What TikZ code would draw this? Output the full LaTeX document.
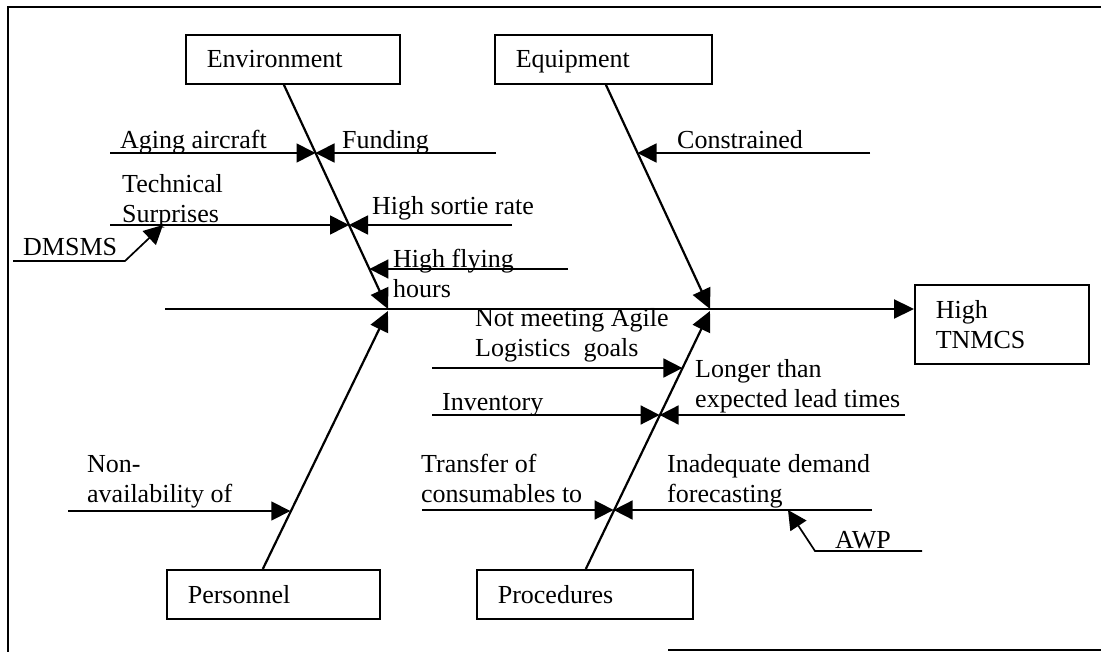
\documentclass[tikz,border=0pt]{standalone}
\usepackage{fontspec}
\setmainfont{Liberation Serif}
\usetikzlibrary{arrows.meta}
\tikzset{
  causebox/.style={draw,line width=1.6pt,anchor=north west,minimum height=49pt,
    inner xsep=21pt,inner ysep=0pt,text depth=0pt,text width=#1,align=left},
  bone/.style={line width=2.2pt,-{Triangle[length=20pt,width=19pt]}},
  cause/.style={line width=1.7pt,-{Triangle[length=19pt,width=19pt]}},
  lbl/.style={anchor=base west,inner sep=0pt,align=left},
}
\begin{document}
\begin{tikzpicture}[x=1pt,y=-1pt,font=\fontsize{26}{30}\selectfont]
	\useasboundingbox (0,0) rectangle (1101,652);
	% frame
	\draw[line width=1.8pt] (1101,7) -- (8,7) -- (8,652);
	\draw[line width=1.8pt] (668,650) -- (1101,650);

	% categories and effect
	\node[causebox=172pt] (env) at (185,34) {Environment};
	\node[causebox=175pt] (equip) at (494,34) {Equipment};
	\node[causebox=171pt] (pers) at (166,569) {Personnel};
	\node[causebox=174pt] (proc) at (476,569) {Procedures};
	\node[causebox=132pt,minimum height=79pt,text depth=30pt] (effect) at (914,284) {High\\TNMCS};

	% spine and bones
	\coordinate (tail) at (165,309);
	\coordinate (jEnv) at (388,309);
	\coordinate (jPers) at (388,311);
	\coordinate (jEquip) at (710,309);
	\coordinate (jProc) at (710,311);
	\draw[bone] (tail) -- (tail -| effect.west);
	\draw[bone] ([xshift=-9pt]env.south) -- (jEnv);
	\draw[bone] ([xshift=-10.5pt]pers.north) -- (jPers);
	\draw[bone] ([xshift=2.5pt]equip.south) -- (jEquip);
	\draw[bone] ([xshift=1pt]proc.north) -- (jProc);

	% environment
	\coordinate (aging) at (110,153);
	\coordinate (funding) at (496,153);
	\coordinate (techsurp) at (110,225);
	\coordinate (sortie) at (512,225);
	\coordinate (flying) at (568,269);
	\coordinate (dmsms) at (13,261);
	\coordinate (dmsmsBend) at (125,261);
	\draw[cause] (aging) -- (315.5,153);
	\draw[cause] (funding) -- (315.5,153);
	\draw[cause] (techsurp) -- (349,225);
	\draw[cause] (sortie) -- (349,225);
	\draw[cause] (flying) -- (369.4,269);
	\draw[cause] (dmsms) -- (dmsmsBend) -- (163,225);
	\node[lbl] (lAging) at (120,149) {Aging aircraft};
	\node[lbl] (lFunding) at (342,149) {Funding};
	\node[lbl] (lTechsurp) at (122,223) {Technical\\Surprises};
	\node[lbl] (lSortie) at (372,215) {High sortie rate};
	\node[lbl] (lFlying) at (393,298) {High flying\\hours};
	\node[lbl] (lDmsms) at (23,256) {DMSMS};

	% equipment
	\coordinate (constr) at (870,153);
	\draw[cause] (constr) -- (637.5,153);
	\node[lbl] (lConstr) at (677,149) {Constrained};

	% personnel
	\coordinate (nonavail) at (68,511);
	\draw[cause] (nonavail) -- (290.3,511);
	\node[lbl] (lNonavail) at (87,502) {Non-\\availability of};

	% procedures
	\coordinate (agile) at (432,368);
	\coordinate (invent) at (432,415);
	\coordinate (lead) at (905,415);
	\coordinate (transfer) at (422,510);
	\coordinate (demand) at (872,510);
	\coordinate (awp) at (922,551);
	\coordinate (awpBend) at (815,551);
	\draw[cause] (agile) -- (682.4,368);
	\draw[cause] (invent) -- (659.6,415);
	\draw[cause] (lead) -- (659.6,415);
	\draw[cause] (transfer) -- (613.6,510);
	\draw[cause] (demand) -- (613.6,510);
	\draw[cause] (awp) -- (awpBend) -- (788,510);
	\node[lbl] (lAgile) at (475,357) {Not meeting Agile\\Logistics\ \ goals};
	\node[lbl] (lInvent) at (442,410) {Inventory};
	\node[lbl] (lLead) at (695,407) {Longer than\\expected lead times};
	\node[lbl] (lTransfer) at (421,502) {Transfer of\\consumables to};
	\node[lbl] (lDemand) at (667,502) {Inadequate demand\\forecasting};
	\node[lbl] (lAwp) at (835,548) {AWP};
\end{tikzpicture}
\end{document}
